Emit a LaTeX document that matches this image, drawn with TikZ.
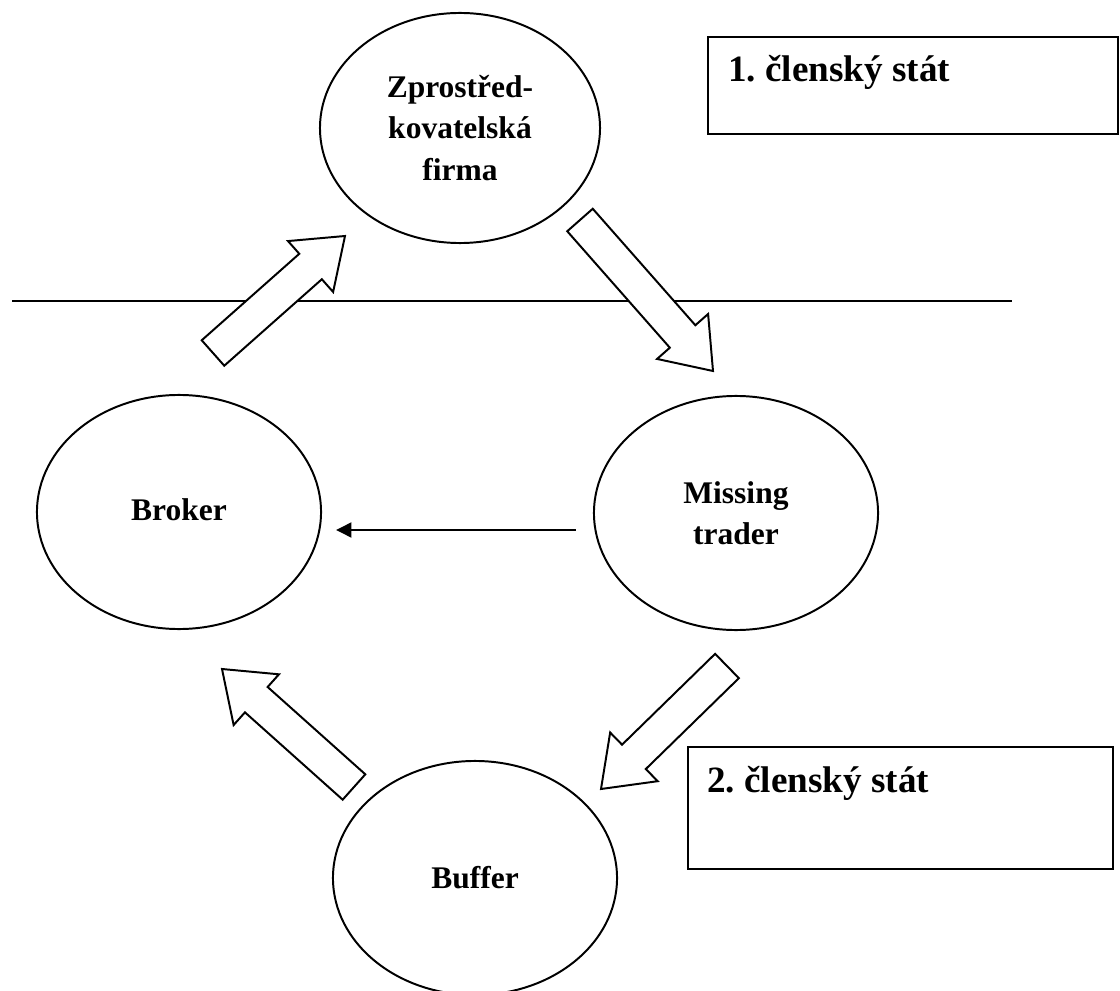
\documentclass[tikz,border=0pt]{standalone}
\usepackage{fontspec}
\setmainfont{Liberation Serif}
\usetikzlibrary{calc,shapes.geometric,arrows.meta}
\frenchspacing
\tikzset{party/.style={draw,ellipse,line width=1.4pt,minimum width=7.1cm,minimum height=5.85cm,inner sep=0pt,align=center,font=\fontsize{22.4}{29.5}\selectfont\bfseries},
statebox/.style={draw,line width=1.4pt,anchor=north west,inner sep=0pt},
statelabel/.style={anchor=base west,inner sep=0pt,font=\fontsize{26.4}{32}\selectfont\bfseries},
blockarrow/.style={draw,line width=1.4pt,fill=white,line join=miter},
flow/.style={line width=2pt,-{Triangle[length=11pt,width=10.5pt]}}}

\begin{document}
\begin{tikzpicture}[x=0.025cm, y=-0.025cm]
\useasboundingbox (0,0) rectangle (1120,991);

% Border between the two states
\coordinate (borderL) at (12,301);
\coordinate (borderR) at (1012,301);
\draw[line width=1.4pt] (borderL) -- (borderR);

% States
\node[statebox,minimum width=10.25cm,minimum height=2.425cm] (state1) at (707,36) {};
\node[statelabel] (state1label) at (728,82) {1. členský stát};
\node[statebox,minimum width=10.625cm,minimum height=3.05cm] (state2) at (687,746) {};
\node[statelabel] (state2label) at (707,792) {2. členský stát};

% Parties
\node[party,minimum width=7cm,minimum height=5.75cm] (firma) at (460,128) {Zprostřed-\\kovatelská\\firma};
\node[party] (broker) at (179,512) {\raisebox{3pt}{Broker}};
\node[party] (trader) at (736,513) {Missing\\trader};
\node[party] (buffer) at (475,878) {Buffer};

% Block arrows (tail -> tip)
\coordinate (a1) at (213,353); \coordinate (a1tip) at (345,236);
\coordinate (a2) at (580,220); \coordinate (a2tip) at (713,371);
\coordinate (a3) at (727,666); \coordinate (a3tip) at (601,789);
\coordinate (a4) at (354,787); \coordinate (a4tip) at (222,669);
\foreach \a in {a1,a2,a3,a4} {
  \coordinate (\a hb) at ($(\a tip)!1.15cm!(\a)$);
  \draw[blockarrow] ($(\a)!0.425cm!90:(\a tip)$) -- ($(\a hb)!0.425cm!90:(\a tip)$) -- ($(\a hb)!0.85cm!90:(\a tip)$) -- (\a tip)
    -- ($(\a hb)!0.85cm!-90:(\a tip)$) -- ($(\a hb)!0.425cm!-90:(\a tip)$) -- ($(\a)!0.425cm!-90:(\a tip)$) -- cycle;
}

% Missing trader -> Broker
\coordinate (flowstart) at ($(trader.west)+(-17,17)$);
\coordinate (flowend) at ($(broker.east)+(14,18)$);
\draw[flow] (flowstart) -- (flowend);

\end{tikzpicture}
\end{document}
